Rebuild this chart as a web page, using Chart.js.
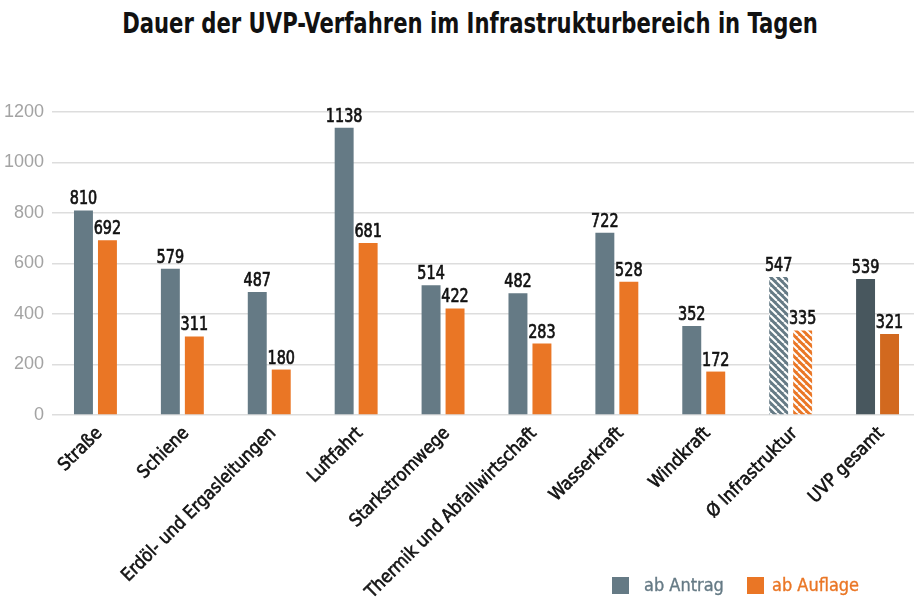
<!DOCTYPE html>
<html><head><meta charset="utf-8">
<script src="https://cdn.jsdelivr.net/npm/chart.js@4.4.1/dist/chart.umd.min.js"></script>
<style>
html,body{margin:0;padding:0;background:#fff;overflow:hidden;width:914px;height:598px;}
#wrap{position:absolute;left:0;top:0;width:930px;height:598px;}
#title{position:absolute;left:470px;top:6px;white-space:nowrap;transform-origin:0 0;transform:scaleX(0.84) translateX(-50%);font-family:"DejaVu Sans",sans-serif;font-stretch:condensed;font-weight:bold;font-size:28px;color:#111;line-height:36px;}
.lg{position:absolute;font-family:"DejaVu Sans",sans-serif;font-stretch:condensed;font-size:18px;line-height:20px;-webkit-text-stroke:0.35px currentColor;}
.sq{position:absolute;width:17px;height:17px;}
</style></head>
<body>
<div id="title">Dauer der UVP-Verfahren im Infrastrukturbereich in Tagen</div>
<div id="wrap"><canvas id="c" width="930" height="598"></canvas></div>
<div class="sq" style="left:612px;top:577px;background:#657a85"></div>
<div class="lg" style="left:644px;top:575px;color:#657a85">ab Antrag</div>
<div class="sq" style="left:747px;top:577px;background:#ea7625"></div>
<div class="lg" style="left:772px;top:575px;color:#ea7625">ab Auflage</div>
<script>
const categories = ["Straße","Schiene","Erdöl- und Ergasleitungen","Luftfahrt","Starkstromwege","Thermik und Abfallwirtschaft","Wasserkraft","Windkraft","Ø Infrastruktur","UVP gesamt"];
const abAntrag = [810,579,487,1138,514,482,722,352,547,539];
const abAuflage = [692,311,180,681,422,283,528,172,335,321];
const yTicks = [0,200,400,600,800,1000,1200];

const GREY = "#657a85", ORANGE = "#ea7625", DGREY = "#48575e", DORANGE = "#d2691f";
function hatch(color){
  const n = 7;
  const p = document.createElement("canvas"); p.width = n; p.height = n;
  const g = p.getContext("2d");
  g.fillStyle = color; g.fillRect(0,0,n,n);
  g.strokeStyle = "#fff"; g.lineWidth = 2;
  for (const k of [-n,0,n]) { g.beginPath(); g.moveTo(k,0); g.lineTo(k+n,n); g.stroke(); }
  return g.createPattern(p,"repeat");
}
const ctx = document.getElementById("c").getContext("2d");
const colA = categories.map((c,i)=> i===8 ? hatch(GREY) : i===9 ? DGREY : GREY);
const colB = categories.map((c,i)=> i===8 ? hatch(ORANGE) : i===9 ? DORANGE : ORANGE);
const FAM = '"DejaVu Sans",sans-serif';

const valueLabels = {
  id:"valueLabels",
  afterDatasetsDraw(chart){
    const c = chart.ctx;
    chart.data.datasets.forEach((ds,di)=>{
      chart.getDatasetMeta(di).data.forEach((el,i)=>{
        c.save();
        c.font = "normal condensed 20px " + FAM;
        c.fillStyle = "#111";
        c.strokeStyle = "#111";
        c.lineWidth = 0.7;
        c.textAlign = "center";
        c.textBaseline = "alphabetic";
        c.translate(el.x, el.y - 6);
        c.scale(0.8, 1);
        c.fillText(String(ds.data[i]), 0, 0);
        c.strokeText(String(ds.data[i]), 0, 0);
        c.restore();
      });
    });
  }
};

new Chart(ctx,{
  type:"bar",
  data:{
    labels:categories,
    datasets:[
      {label:"ab Antrag", data:abAntrag, backgroundColor:colA, categoryPercentage:0.552, barPercentage:0.79},
      {label:"ab Auflage", data:abAuflage, backgroundColor:colB, categoryPercentage:0.552, barPercentage:0.79}
    ]
  },
  options:{
    responsive:false,
    animation:false,
    layout:{padding:{top:112,right:9,left:0,bottom:0}},
    plugins:{legend:{display:false},tooltip:{enabled:false},title:{display:false}},
    scales:{
      x:{
        grid:{display:false},
        border:{display:false},
        ticks:{color:"#111",font:{family:FAM,size:18,weight:"normal condensed"},textStrokeColor:"#111",textStrokeWidth:0.6,maxRotation:45,minRotation:45,autoSkip:false,padding:0,labelOffset:4},
        afterFit(s){ s.height = 183; }
      },
      y:{
        min:0,max:1200,
        afterBuildTicks(s){ s.ticks = yTicks.map(v=>({value:v})); },
        grid:{color:"#dddddd",lineWidth:1.5,drawTicks:false},
        border:{display:false},
        ticks:{color:"#a3a3a3",font:{family:'"Liberation Sans",sans-serif',size:18},padding:8,callback:(v)=>String(v)},
        afterFit(s){ s.width = 52; }
      }
    }
  },
  plugins:[valueLabels]
});
</script>
</body></html>
